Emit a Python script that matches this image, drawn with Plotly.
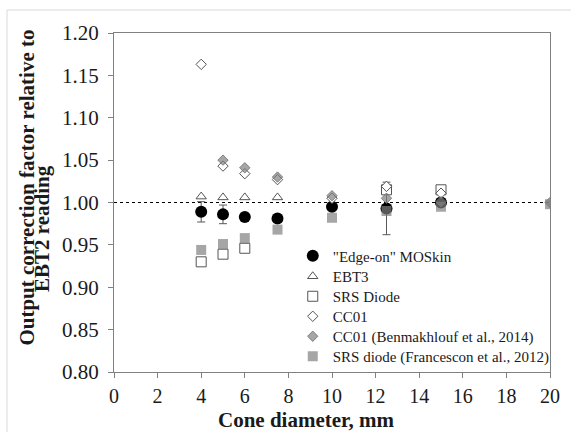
import plotly.graph_objects as go

# ---- data ----
x_moskin = [4, 5, 6, 7.5, 10, 12.5, 15]
moskin = [0.989, 0.986, 0.983, 0.981, 0.995, 0.993, 1.000]
moskin_err = [0.012, 0.011, 0.003, 0.003, 0.003, 0.031, 0.003]

x_ebt3 = [4, 5, 6, 7.5]
ebt3 = [1.007, 1.006, 1.006, 1.006]

x_srs = [4, 5, 6, 12.5, 15]
srs = [0.930, 0.939, 0.946, 1.015, 1.015]

x_cc01 = [4, 5, 6, 7.5, 10, 12.5, 15]
cc01 = [1.163, 1.043, 1.034, 1.027, 1.005, 1.019, 1.011]

x_benm = [5, 6, 7.5, 10, 12.5, 15, 20]
benm = [1.050, 1.041, 1.030, 1.008, 1.005, 1.001, 1.000]

x_franc = [4, 5, 6, 7.5, 10, 12.5, 15, 20]
franc = [0.944, 0.951, 0.958, 0.968, 0.982, 0.990, 0.995, 0.998]

ref_level = 1.0
x_ticks = [0, 2, 4, 6, 8, 10, 12, 14, 16, 18, 20]
y_ticks = [0.80, 0.85, 0.90, 0.95, 1.00, 1.05, 1.10, 1.15, 1.20]

SERIF = "Liberation Serif, Times New Roman, serif"
TXT = "#1a1a1a"

fig = go.Figure()

fig.add_trace(go.Scatter(
    x=x_moskin, y=moskin, mode="markers", name='"Edge-on" MOSkin', legend="legend",
    marker=dict(symbol="circle", size=12, color="black"),
    error_y=dict(type="data", array=moskin_err, color="#595959", thickness=1, width=4),
))
fig.add_trace(go.Scatter(
    x=x_ebt3, y=ebt3, mode="markers", name="EBT3", legend="legend2",
    marker=dict(symbol="triangle-up", size=9, color="white",
                line=dict(color="#555555", width=1)),
))
fig.add_trace(go.Scatter(
    x=x_srs, y=srs, mode="markers", name="SRS Diode", legend="legend3",
    marker=dict(symbol="square", size=10, color="white",
                line=dict(color="#555555", width=1)),
))
fig.add_trace(go.Scatter(
    x=x_cc01, y=cc01, mode="markers", name="CC01", legend="legend4",
    marker=dict(symbol="diamond", size=8, color="white",
                line=dict(color="#555555", width=1)),
))
fig.add_trace(go.Scatter(
    x=x_benm, y=benm, mode="markers", name="CC01 (Benmakhlouf et al., 2014)", legend="legend5",
    marker=dict(symbol="diamond", size=8, color="rgba(128,128,128,0.7)",
                line=dict(color="rgba(110,110,110,0.8)", width=1)),
))
fig.add_trace(go.Scatter(
    x=x_franc, y=franc, mode="markers", name="SRS diode (Francescon et al., 2012)", legend="legend6",
    marker=dict(symbol="square", size=10, color="rgba(128,128,128,0.7)",
                line=dict(width=0)),
))

# reference line at 1.00
fig.add_shape(type="line", xref="x", yref="y", x0=x_ticks[0], x1=x_ticks[-1],
              y0=ref_level, y1=ref_level, line=dict(color="black", width=1, dash="dot"),
              layer="below")

# light outer frame of the image
fig.add_shape(type="rect", xref="paper", yref="paper", x0=-0.2454, x1=1.3,
              y0=-0.35, y1=1.0678, line=dict(color="#d9d9d9", width=1))

axis_common = dict(
    showgrid=False, zeroline=False, showline=True, linecolor="#808080", linewidth=1,
    mirror=True, ticks="outside", ticklen=5, tickcolor="#808080",
)

fig.update_xaxes(range=[0, 20], tickvals=x_ticks, ticklabelstandoff=1,
                 tickfont=dict(family=SERIF, size=20, color=TXT), **axis_common)
fig.update_yaxes(range=[0.80, 1.20], tickvals=y_ticks, tickformat=".2f",
                 ticklabelstandoff=5,
                 tickfont=dict(family=SERIF, size=21, color=TXT), **axis_common)

fig.add_annotation(text="<b>Cone diameter, mm</b>", xref="paper", yref="paper",
                   x=0.44, y=-0.1416, xanchor="center", yanchor="middle", showarrow=False,
                   font=dict(family=SERIF, size=21, color=TXT))
fig.add_annotation(text="<b>Output correction factor relative to</b>", xref="paper", yref="paper",
                   x=-0.1995, y=0.544, xanchor="center", yanchor="middle",
                   showarrow=False, textangle=-90,
                   font=dict(family=SERIF, size=21, color=TXT))
fig.add_annotation(text="<b>EBT2 reading</b>", xref="paper", yref="paper",
                   x=-0.165, y=0.4218, xanchor="center", yanchor="middle",
                   showarrow=False, textangle=-90,
                   font=dict(family=SERIF, size=21, color=TXT))

# one legend box per entry so that the row spacing matches the reference
row_px = [256, 276.5, 296.5, 316.5, 336.5, 356.5]
legend_boxes = {}
for i, py in enumerate(row_px):
    key = "legend" if i == 0 else f"legend{i + 1}"
    legend_boxes[key] = dict(
        x=0.41, y=(372 - py) / 339, xanchor="left", yanchor="middle",
        bgcolor="rgba(0,0,0,0)", borderwidth=0, itemwidth=30,
        font=dict(family=SERIF, size=15, color=TXT),
    )

fig.update_layout(
    width=571, height=432,
    margin=dict(l=114, r=21, t=33, b=60),
    paper_bgcolor="white", plot_bgcolor="white",
    showlegend=True,
    **legend_boxes,
)

fig.write_html("out.html", config={"displayModeBar": False},
               post_script="document.body.style.margin='0';")
